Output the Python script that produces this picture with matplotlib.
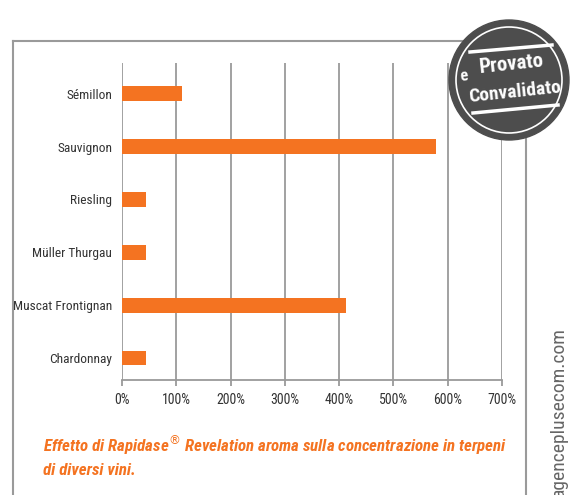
import numpy as np
import matplotlib
matplotlib.use('Agg')
import matplotlib.pyplot as plt
from matplotlib import font_manager
from matplotlib.patches import Circle

# Data for the chart (percent increase in terpenes)
wines = ['Chardonnay', 'Muscat Frontignan', 'Müller Thurgau', 'Riesling', 'Sauvignon', 'Sémillon']
values = [45, 412, 45, 45, 578, 111]
x_ticks = [0, 100, 200, 300, 400, 500, 600, 700]
x_tick_labels = [f'{t}%' for t in x_ticks]

caption = ('Effetto di Rapidase$^{®}$ Revelation aroma sulla concentrazione in terpeni\n'
           'di diversi vini.')


def pick_font(names):
    # Return the first family that is really installed
    for n in names:
        try:
            font_manager.findfont(font_manager.FontProperties(family=n),
                                  fallback_to_default=False)
            return n, True
        except ValueError:
            pass
    return 'Roboto', False


font_name, is_narrow = pick_font(['Liberation Sans Narrow', 'Roboto Condensed',
                                  'Open Sans Condensed', 'Noto Sans Condensed'])
# Font scale: narrow fonts can be bigger for the same width
k = 1.0 if is_narrow else 0.8

# Colours and fonts
ORANGE = '#F47321'
GREY = '#9a9a9a'
TEXT = '#333333'
plt.rcParams['font.family'] = [font_name, 'DejaVu Sans']

W, H = 573, 495
fig = plt.figure(figsize=(W / 100, H / 100), dpi=100)

# Main bar chart, positioned in pixels
ax = fig.add_axes([122 / W, 1 - 380 / H, 380 / W, 317 / H])
ypos = np.arange(len(wines))
ax.barh(ypos, values, height=0.28, color=ORANGE, zorder=3)
ax.set_xlim(0, 700)
ax.set_ylim(-0.415, 5.58)
ax.set_xticks(x_ticks)
ax.set_xticklabels(x_tick_labels, fontsize=10 * k, color=TEXT)
ax.set_yticks(ypos)
ax.set_yticklabels(wines, fontsize=9.6 * k, color=TEXT)
ax.tick_params(axis='y', length=0, pad=7)
ax.tick_params(axis='x', length=4, width=1.3, color=GREY, pad=5)
ax.grid(axis='x', color=GREY, linewidth=1.3, zorder=0)
for s in ['top', 'right', 'left']:
    ax.spines[s].set_visible(False)
ax.spines['bottom'].set_color(GREY)
ax.spines['bottom'].set_linewidth(1.3)

# Overlay in pixel coords for the frame, badge and caption
ov = fig.add_axes([0, 0, 1, 1], zorder=5)
ov.set_xlim(0, W)
ov.set_ylim(H, 0)
ov.axis('off')
ov.patch.set_alpha(0)

# Frame lines
ov.plot([13, 13], [41, H + 2], color=GREY, lw=1.5)
ov.plot([13, 470], [41, 41], color=GREY, lw=1.5)
ov.plot([526, 526], [120, H + 2], color=GREY, lw=1.5)

# Badge "Provato e Convalidato"
cx, cy = 509, 80
ov.add_patch(Circle((cx, cy), 60, color='#4d4d4d', zorder=6))
ov.add_patch(Circle((cx, cy), 53, fill=False, ec='white', lw=1.2, zorder=7))
ov.plot([470, 552], [52, 45], color='white', lw=2.5, zorder=8)
ov.plot([473, 558], [113, 105], color='white', lw=2.5, zorder=8)
ov.text(511, 64, 'Provato', color='white', fontsize=15 * k, fontweight='heavy',
        ha='center', va='center', rotation=6, zorder=9)
ov.text(464, 76, 'e', color='white', fontsize=12 * k, fontweight='heavy',
        ha='center', va='center', rotation=6, zorder=9)
ov.text(515, 92, 'Convalidato', color='white', fontsize=14 * k, fontweight='heavy',
        ha='center', va='center', rotation=6, zorder=9)

# Caption
ov.text(43, 433, caption, color=ORANGE, fontsize=12.2 * k, fontweight='bold',
        fontstyle='italic', ha='left', va='top', linespacing=1.5)

# Watermark on the right edge, cut by the image border as in the original
ov.text(550, 497, 'agenceplusecom.com', color='#666666', fontsize=14 * k,
        rotation=90, ha='left', va='bottom')

fig.savefig('out.png', dpi=100)
